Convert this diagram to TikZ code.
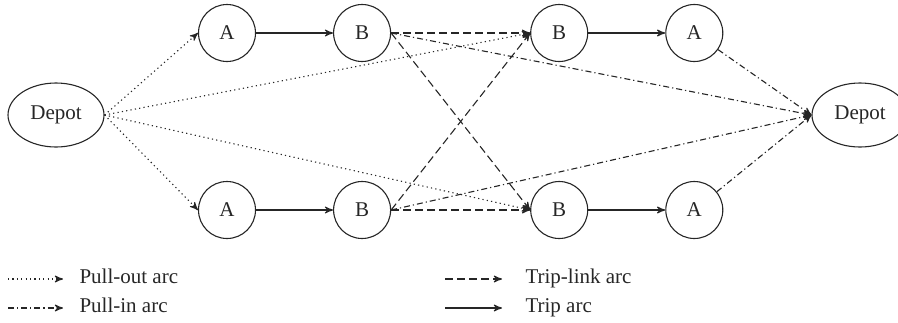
\documentclass[tikz,border=0pt]{standalone}
\usepackage{fontspec}
\setmainfont{Liberation Serif}
\usetikzlibrary{arrows, positioning, shapes.geometric}

\begin{document}
\begin{tikzpicture}[
		x=0.5pt, y=-0.5pt,
		node distance = 38.5pt,
		inner sep=0pt,
		>=stealth',
		line width=0.55pt,
		color=black!85,
		font=\fontsize{10.5}{12}\selectfont,
		depot/.style={
				ellipse,
				minimum width = 48pt,
				minimum height = 32pt,
				draw
			},
		station/.style={
				circle,
				minimum size = 28.5pt,
				draw
			},
		pullout/.style={->, dash pattern=on 0.6pt off 1.6pt},
		pullin/.style={->, dash pattern=on 3pt off 1.5pt on 0.6pt off 1.5pt},
		triplink/.style={->, dash pattern=on 4pt off 2pt},
		trip/.style={->},
		legendtext/.style={anchor=west, text height=7pt, text depth=3pt}
		]

		\useasboundingbox (0,0) rectangle (898,322);

		\node[depot] (depotL) at (56,115) {Depot};

		\node[station] (a1) at (227,33) {A};
		\node[station, right= of a1] (b1) {B};
		\node[station, right=69.5pt of b1] (b2) {B};
		\node[station, right= of b2] (a2) {A};

		\node[station] (a3) at (227,210) {A};
		\node[station, right= of a3] (b3) {B};
		\node[station, right=69.5pt of b3] (b4) {B};
		\node[station, right= of b4] (a4) {A};

		\node[depot] (depotR) at (860,115) {Depot};

		\draw[pullout] (depotL.east) -- (a1.west);
		\draw[pullout] (depotL.east) -- (a3.west);
		\draw[pullout] (depotL.east) -- (b2.west);
		\draw[pullout] (depotL.east) -- (b4.west);

		\draw[trip] (a1) -- (b1);
		\draw[trip] (b2) -- (a2);
		\draw[trip] (a3) -- (b3);
		\draw[trip] (b4) -- (a4);

		\draw[triplink] (b1.east) -- (b2.west);
		\draw[triplink] (b1.east) -- (b4.west);
		\draw[triplink] (b3.east) -- (b2.west);
		\draw[triplink] (b3.east) -- (b4.west);

		\draw[pullin] (b1.east) -- (depotR.west);
		\draw[pullin] (b3.east) -- (depotR.west);
		\draw[pullin] (a2) -- (depotR.west);
		\draw[pullin] (a4) -- (depotR.west);

		% legend
		\coordinate (lpullout) at (8,279);
		\node[legendtext] (tpullout) at (79,279) {Pull-out arc};
		\draw[pullout, shorten >=8pt] (lpullout) -- (tpullout);

		\coordinate (lpullin) at (8,308);
		\node[legendtext] (tpullin) at (79,308) {Pull-in arc};
		\draw[pullin, shorten >=8pt] (lpullin) -- (tpullin);

		\coordinate (ltriplink) at (445,279);
		\node[legendtext] (ttriplink) at (525,279) {Trip-link arc};
		\draw[triplink, shorten >=11.5pt] (ltriplink) -- (ttriplink);

		\coordinate (ltrip) at (445,308);
		\node[legendtext] (ttrip) at (525,308) {Trip arc};
		\draw[trip, shorten >=11.5pt] (ltrip) -- (ttrip);

	\end{tikzpicture}
\end{document}
